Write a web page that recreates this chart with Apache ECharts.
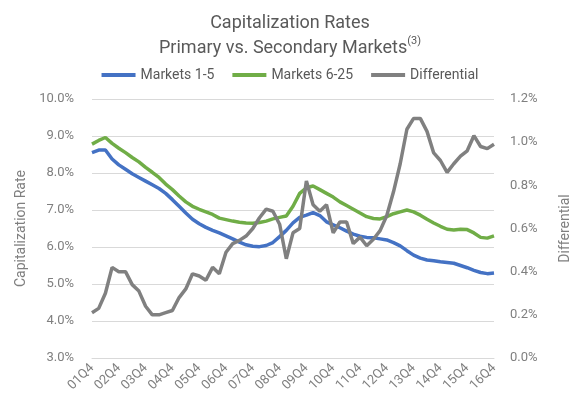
<!DOCTYPE html>
<html>
<head>
<meta charset="utf-8">
<script src="https://cdn.jsdelivr.net/npm/echarts@6/dist/echarts.min.js"></script>
<style>
  html, body { margin: 0; padding: 0; background: #fff; }
  #chart { width: 580px; height: 414px; }
</style>
</head>
<body>
<div id="chart"></div>
<script>
// 季度 01Q4 .. 16Q4
const quarters = []
for (let y = 1; y <= 16; y++) {
  for (let q = 1; q <= 4; q++) {
    if (y === 1 && q < 4) continue
    quarters.push((y < 10 ? '0' + y : '' + y) + 'Q' + q)
  }
}

// Markets 1-5
const primary = [
  8.55, 8.62, 8.62, 8.38, 8.22, 8.10, 7.98, 7.88, 7.78, 7.68,
  7.58, 7.45, 7.28, 7.10, 6.92, 6.75, 6.63, 6.53, 6.45, 6.38,
  6.30, 6.22, 6.13, 6.06, 6.02, 6.01, 6.04, 6.12, 6.28, 6.45,
  6.65, 6.80, 6.86, 6.93, 6.85, 6.68, 6.60, 6.52, 6.43, 6.35,
  6.29, 6.26, 6.25, 6.22, 6.19, 6.12, 6.03, 5.90, 5.78, 5.70,
  5.65, 5.63, 5.60, 5.58, 5.56, 5.50, 5.44, 5.37, 5.31, 5.28,
  5.30
]

// Markets 6-25
const secondary = [
  8.78, 8.88, 8.96, 8.80, 8.67, 8.55, 8.42, 8.30, 8.15, 8.02,
  7.88, 7.70, 7.55, 7.38, 7.22, 7.10, 7.02, 6.95, 6.88, 6.78,
  6.74, 6.70, 6.67, 6.65, 6.64, 6.66, 6.70, 6.76, 6.80, 6.84,
  7.10, 7.45, 7.60, 7.65, 7.55, 7.45, 7.35, 7.22, 7.12, 7.02,
  6.92, 6.82, 6.77, 6.76, 6.82, 6.90, 6.95, 7.00, 6.95, 6.86,
  6.75, 6.65, 6.56, 6.48, 6.46, 6.48, 6.47, 6.38, 6.26, 6.24,
  6.30
]

// Differential (右轴)
const differential = [
  0.21, 0.23, 0.30, 0.42, 0.40, 0.40, 0.34, 0.31, 0.24, 0.20,
  0.20, 0.21, 0.22, 0.28, 0.32, 0.39, 0.38, 0.36, 0.42, 0.39,
  0.49, 0.53, 0.545, 0.565, 0.60, 0.65, 0.69, 0.68, 0.62, 0.46,
  0.58, 0.60, 0.82, 0.71, 0.68, 0.71, 0.58, 0.63, 0.63, 0.53,
  0.56, 0.52, 0.55, 0.59, 0.66, 0.77, 0.90, 1.06, 1.11, 1.11,
  1.05, 0.95, 0.915, 0.86, 0.90, 0.935, 0.96, 1.03, 0.98, 0.97,
  0.99
]

const font = 'Roboto, "Noto Sans", sans-serif'
const gray = '#7f7f7f'

const myChart = echarts.init(document.getElementById('chart'))
const option = {
  animation: false,
  textStyle: { fontFamily: font },
  title: {
    left: 'center',
    top: 6,
    text: 'Capitalization Rates\nPrimary vs. Secondary Markets{sup|(3)}',
    textStyle: {
      fontSize: 18,
      fontWeight: 'normal',
      color: '#595959',
      lineHeight: 25,
      fontFamily: font,
      rich: {
        sup: { fontSize: 11, color: '#595959', verticalAlign: 'top', padding: [0, 0, 10, 0], fontFamily: font }
      }
    }
  },
  legend: {
    top: 63,
    left: 'center',
    itemWidth: 34,
    itemHeight: 4,
    itemGap: 18,
    icon: 'rect',
    textStyle: { fontSize: 14, color: '#595959', fontFamily: font },
    data: ['Markets 1-5', 'Markets 6-25', 'Differential']
  },
  grid: { left: 92, right: 80, top: 99, bottom: 56 },
  xAxis: {
    type: 'category',
    data: quarters,
    boundaryGap: false,
    axisLine: { lineStyle: { color: '#d9d9d9' } },
    axisTick: { show: false },
    axisLabel: {
      interval: 3,
      rotate: 45,
      fontSize: 13,
      color: gray,
      margin: 8
    }
  },
  yAxis: [
    {
      type: 'value',
      min: 3,
      max: 10,
      interval: 1,
      name: 'Capitalization Rate',
      nameLocation: 'middle',
      nameGap: 58,
      nameTextStyle: { fontSize: 14, color: gray },
      axisLine: { show: false },
      axisTick: { show: false },
      axisLabel: { fontSize: 13, color: gray, margin: 18, formatter: v => v.toFixed(1) + '%' },
      splitLine: { lineStyle: { color: '#d9d9d9', width: 1 } }
    },
    {
      type: 'value',
      min: 0,
      max: 1.2,
      interval: 0.2,
      name: 'Differential',
      nameLocation: 'middle',
      nameGap: 64,
      nameRotate: 90,
      nameTextStyle: { fontSize: 14, color: gray },
      axisLine: { show: false },
      axisTick: { show: false },
      axisLabel: { fontSize: 13, color: gray, margin: 16, formatter: v => v.toFixed(1) + '%' },
      splitLine: { show: false }
    }
  ],
  series: [
    {
      name: 'Markets 1-5',
      type: 'line',
      data: primary,
      symbol: 'none',
      lineStyle: { color: '#4472c4', width: 3.5 },
      itemStyle: { color: '#4472c4' }
    },
    {
      name: 'Markets 6-25',
      type: 'line',
      data: secondary,
      symbol: 'none',
      lineStyle: { color: '#70ad47', width: 3.5 },
      itemStyle: { color: '#70ad47' }
    },
    {
      name: 'Differential',
      type: 'line',
      yAxisIndex: 1,
      data: differential,
      symbol: 'none',
      lineStyle: { color: '#808080', width: 3.5 },
      itemStyle: { color: '#808080' }
    }
  ]
}
myChart.setOption(option)
</script>
</body>
</html>
